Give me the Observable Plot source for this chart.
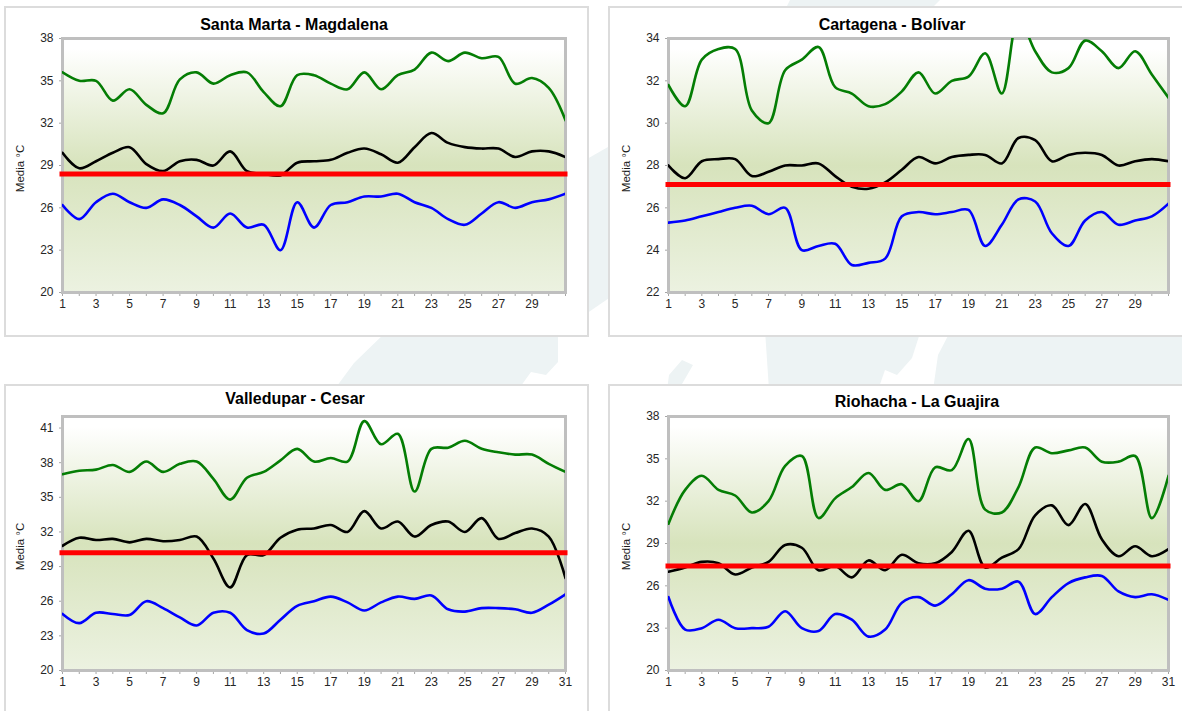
<!DOCTYPE html>
<html lang="es">
<head>
<meta charset="utf-8">
<script src="https://cdn.jsdelivr.net/npm/d3@7"></script>
<script src="https://cdn.jsdelivr.net/npm/@observablehq/plot@0.6"></script>
<style>
html,body{margin:0;padding:0;width:1182px;height:711px;overflow:hidden;background-color:#fff;font-family:"Liberation Sans",Arial,sans-serif;}
body{position:relative;background-repeat:no-repeat;background-image:url("data:image/svg+xml,%3Csvg xmlns='http://www.w3.org/2000/svg' width='1182' height='711'%3E%3Cg fill='%23edf3f4'%3E%3Cpath d='M388 330L354 363L334 390H518L531 372L546 375L558 362V330Z'/%3E%3Cpath d='M765 330L769 390H878L885 370L897 375L912 358L921 330Z'/%3E%3Cpath d='M951 330L938 355L933 390H1182V330Z'/%3E%3Cpath d='M682 360L693 365L682 384L685 390H667L669 375Z'/%3E%3Cpath d='M580 163L615 143V294L580 318Z'/%3E%3Cpath d='M790 0H940L930 10H785Z'/%3E%3C/g%3E%3C/svg%3E");}
.card{position:absolute;width:583px;height:329px;box-sizing:border-box;background:#fff;outline:2px solid #dcdcdc;outline-offset:-1px;}
.card svg{position:absolute;left:0;top:0;display:block;background:transparent;}
.title{position:absolute;font:bold 16px "Liberation Sans",Arial,sans-serif;color:#000;white-space:nowrap;transform:translate(-50%,-50%);}
</style>
</head>
<body>
<script>
const days = d3.range(1, 32);

const santaMartaMax = [35.6,35.0,35.0,33.6,34.4,33.3,32.7,35.1,35.6,34.8,35.4,35.6,34.2,33.2,35.4,35.4,34.8,34.4,35.6,34.4,35.4,35.8,37.0,36.4,37.0,36.6,36.7,34.8,35.2,34.5,32.2];
const santaMartaMean = [29.9,28.8,29.3,29.9,30.3,29.1,28.6,29.3,29.4,29.0,30.0,28.6,28.4,28.3,29.2,29.3,29.4,29.9,30.2,29.8,29.2,30.3,31.3,30.6,30.3,30.2,30.2,29.6,30.0,30.0,29.6];
const santaMartaMin = [26.2,25.2,26.4,27.0,26.4,26.0,26.6,26.2,25.4,24.6,25.6,24.6,24.8,23.0,26.4,24.6,26.2,26.4,26.8,26.8,27.0,26.4,26.0,25.2,24.8,25.6,26.4,26.0,26.4,26.6,27.0];
const santaMartaNormal = 28.4;
const santaMartaTicks = [20,23,26,29,32,35,38];

const cartagenaMax = [31.8,30.8,33.0,33.5,33.5,30.6,30.0,32.5,33.0,33.6,31.7,31.4,30.8,30.9,31.5,32.4,31.4,32.0,32.2,33.3,31.4,35.0,33.4,32.4,32.6,33.9,33.4,32.6,33.4,32.3,31.2];
const cartagenaMean = [28.0,27.4,28.2,28.3,28.3,27.5,27.7,28.0,28.0,28.1,27.5,27.0,26.9,27.2,27.8,28.4,28.1,28.4,28.5,28.5,28.1,29.3,29.2,28.2,28.5,28.6,28.5,28.0,28.2,28.3,28.2];
const cartagenaMin = [25.3,25.4,25.6,25.8,26.0,26.1,25.7,26.0,24.0,24.2,24.3,23.3,23.4,23.6,25.6,25.8,25.7,25.8,25.9,24.2,25.2,26.4,26.3,24.8,24.2,25.4,25.8,25.2,25.4,25.6,26.2];
const cartagenaNormal = 27.1;
const cartagenaTicks = [22,24,26,28,30,32,34];

const valleduparMax = [37.0,37.3,37.4,37.8,37.2,38.1,37.2,37.9,38.1,36.6,34.8,36.7,37.2,38.2,39.2,38.1,38.4,38.1,41.6,39.6,40.5,35.5,39.2,39.3,39.9,39.2,38.9,38.7,38.7,37.9,37.2];
const valleduparMean = [30.8,31.5,31.3,31.4,31.1,31.4,31.2,31.3,31.6,29.7,27.2,30.0,30.0,31.5,32.2,32.3,32.6,32.0,33.8,32.3,32.9,31.6,32.6,32.9,32.0,33.2,31.4,31.9,32.3,31.6,28.0];
const valleduparMin = [24.9,24.1,25.0,24.9,24.8,26.0,25.4,24.6,23.9,25.0,25.0,23.5,23.2,24.4,25.6,26.0,26.4,25.9,25.2,25.9,26.4,26.2,26.5,25.3,25.1,25.4,25.4,25.3,25.0,25.7,26.6];
const valleduparNormal = 30.2;
const valleduparTicks = [20,23,26,29,32,35,38,41];

const riohachaMax = [30.4,32.8,33.8,32.8,32.4,31.2,32.0,34.5,35.2,30.8,32.2,33.0,34.0,32.8,33.2,32.0,34.4,34.2,36.4,31.4,31.2,33.0,35.8,35.4,35.6,35.8,34.8,34.8,35.2,30.8,33.8];
const riohachaMean = [27.0,27.3,27.7,27.6,26.8,27.3,27.7,28.9,28.7,27.1,27.4,26.6,27.8,27.1,28.2,27.6,27.6,28.4,29.9,27.3,28.0,28.6,31.0,31.7,30.3,31.8,29.3,28.1,28.8,28.1,28.6];
const riohachaMin = [25.2,22.9,23.0,23.6,23.0,23.0,23.1,24.2,23.0,22.8,24.0,23.6,22.4,22.9,24.8,25.2,24.6,25.4,26.4,25.8,25.8,26.3,24.0,25.2,26.2,26.6,26.7,25.6,25.2,25.4,25.0];
const riohachaNormal = 27.4;
const riohachaTicks = [20,23,26,29,32,35,38];

const yLabel = "Media °C";

const panels = [
  {title:"Santa Marta - Magdalena", max:santaMartaMax, mean:santaMartaMean, min:santaMartaMin, normal:santaMartaNormal, ticks:santaMartaTicks, yMax:38, last:29, left:5,   top:7,   mL:57, mR:23, tX:289, tY:18},
  {title:"Cartagena - Bolívar",     max:cartagenaMax,  mean:cartagenaMean,  min:cartagenaMin,  normal:cartagenaNormal,  ticks:cartagenaTicks,  yMax:34, last:29, left:609, top:7,   mL:59, mR:24, tX:283, tY:18},
  {title:"Valledupar - Cesar",      max:valleduparMax, mean:valleduparMean, min:valleduparMin, normal:valleduparNormal, ticks:valleduparTicks, yMax:42, last:31, left:5,   top:385, mL:57, mR:23, tX:290, tY:14},
  {title:"Riohacha - La Guajira",   max:riohachaMax,   mean:riohachaMean,   min:riohachaMin,   normal:riohachaNormal,   ticks:riohachaTicks,   yMax:38, last:31, left:609, top:385, mL:59, mR:24, tX:308, tY:17}
];

panels.forEach((p, i) => {
  const card = document.createElement("div");
  card.className = "card";
  card.style.left = p.left + "px";
  card.style.top = p.top + "px";

  const gradId = "bg" + i;
  const defs = () => {
    const d = d3.create("svg:defs");
    const g = d.append("linearGradient").attr("id", gradId).attr("x1", 0).attr("y1", 0).attr("x2", 0).attr("y2", 1);
    [["0%","#ffffff"],["4%","#ffffff"],["50%","#d7e3bc"],["100%","#ecf2e1"]].forEach(([o,c]) =>
      g.append("stop").attr("offset", o).attr("stop-color", c));
    return d.node();
  };

  const seriesMark = (vals, color) => Plot.line(days, {
    x: d => d, y: (d, j) => vals[j], stroke: color, strokeWidth: 2.6,
    curve: "catmull-rom", clip: "frame"
  });

  const plot = Plot.plot({
    width: 583, height: 329,
    marginLeft: p.mL, marginRight: p.mR, marginTop: 31, marginBottom: 44,
    style: {fontFamily: '"Liberation Sans",Arial,sans-serif', fontSize: "12px", background: "transparent", overflow: "visible"},
    x: {type: "linear", domain: [1, 31]},
    y: {domain: [p.ticks[0], p.yMax]},
    marks: [
      defs,
      Plot.frame({fill: `url(#${gradId})`, stroke: "none"}),
      Plot.axisX({ticks: days, tickSize: 4, tickPadding: 3, stroke: "#a6a6a6", fill: "#262626", label: null,
        tickFormat: d => (d % 2 === 1 && d <= p.last) ? String(d) : ""}),
      Plot.axisY({ticks: p.ticks, tickSize: 3, tickPadding: 6, stroke: "#a6a6a6", fill: "#262626",
        tickFormat: d => String(d), label: null}),
      Plot.text([yLabel], {text: d => d, frameAnchor: "left", textAnchor: "middle", rotate: -90, dx: -42, dy: 3, fontSize: 11.5, fill: "#1a1a1a"}),
      Plot.frame({stroke: "#bfbfbf", strokeWidth: 3}),
      seriesMark(p.max, "#047d04"),
      seriesMark(p.mean, "#000000"),
      seriesMark(p.min, "#0000ff"),
      Plot.ruleY([p.normal], {stroke: "#ff0000", strokeWidth: 5, strokeLinecap: "square"})
    ]
  });
  card.appendChild(plot);

  const t = document.createElement("div");
  t.className = "title";
  t.textContent = p.title;
  t.style.left = p.tX + "px";
  t.style.top = p.tY + "px";
  card.appendChild(t);

  document.body.appendChild(card);
});
</script>
</body>
</html>
